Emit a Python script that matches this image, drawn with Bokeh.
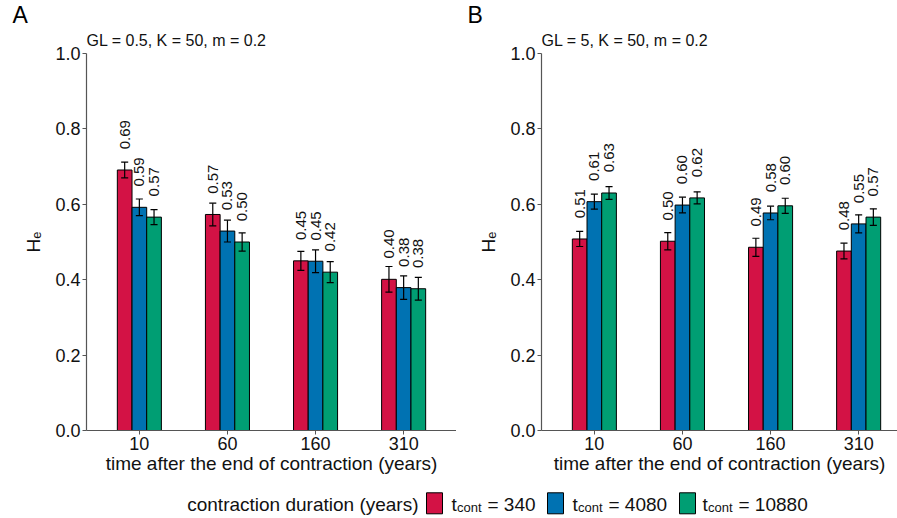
import numpy as np
from bokeh.plotting import figure
from bokeh.models import Range1d, FixedTicker, Title, NumeralTickFormatter
from bokeh.layouts import column, row
from bokeh.embed import file_html
from bokeh.resources import INLINE
from bokeh.core.properties import value

# ---------------- data ----------------
categories = ["10", "60", "160", "310"]
durations = ["340", "4080", "10880"]
colors = ["#D31245", "#0072B2", "#009E73"]

# Panel A : GL = 0.5, K = 50, m = 0.2
a_mean_340 = [0.691, 0.573, 0.450, 0.401]
a_err_340 = [0.021, 0.030, 0.025, 0.034]
a_mean_4080 = [0.592, 0.529, 0.449, 0.379]
a_err_4080 = [0.022, 0.029, 0.030, 0.031]
a_mean_10880 = [0.566, 0.500, 0.420, 0.376]
a_err_10880 = [0.020, 0.024, 0.028, 0.030]

# Panel B : GL = 5, K = 50, m = 0.2
b_mean_340 = [0.508, 0.502, 0.486, 0.476]
b_err_340 = [0.020, 0.023, 0.024, 0.021]
b_mean_4080 = [0.607, 0.598, 0.577, 0.548]
b_err_4080 = [0.020, 0.021, 0.018, 0.024]
b_mean_10880 = [0.630, 0.617, 0.596, 0.566]
b_err_10880 = [0.017, 0.016, 0.020, 0.022]

y_ticks = [0.0, 0.2, 0.4, 0.6, 0.8, 1.0]
x_title = "time after the end of contraction (years)"
y_title = "H\u2091"
legend_title = "contraction duration (years)"

FONT = "Liberation Sans"
AXIS_GREY = "#555555"
TXT = "#111111"
BAR_W = 0.5 / 3
PANEL_H = 478


def make_panel(letter, subtitle, means, errs, width, border_left, x_end):
    p = figure(width=width, height=PANEL_H,
               x_range=Range1d(0.4, x_end), y_range=Range1d(0, 1),
               output_backend="svg", toolbar_location=None,
               min_border_left=border_left, min_border_right=0,
               min_border_top=53, min_border_bottom=48)
    p.outline_line_color = None
    p.grid.visible = False
    p.background_fill_color = "white"

    base = np.arange(1, len(categories) + 1)
    offsets = [-BAR_W, 0.0, BAR_W]
    for m, e, off, col in zip(means, errs, offsets, colors):
        m = np.asarray(m)
        e = np.asarray(e)
        xs = base + off
        p.vbar(x=xs, top=m, bottom=0, width=BAR_W, fill_color=col,
               line_color="black", line_width=1)
        p.segment(x0=xs, y0=m - e, x1=xs, y1=m + e, line_color="black", line_width=1.2)
        p.segment(x0=xs - 0.04, y0=m + e, x1=xs + 0.04, y1=m + e, line_color="black", line_width=1.2)
        p.segment(x0=xs - 0.04, y0=m - e, x1=xs + 0.04, y1=m - e, line_color="black", line_width=1.2)
        p.text(x=xs, y=m + 0.055, text=["%.2f" % v for v in m], angle=np.pi / 2,
               text_align="left", text_baseline="middle",
               text_font=value(FONT), text_font_size="15px", text_color=TXT)

    # axes
    p.xaxis.ticker = FixedTicker(ticks=list(base))
    p.xaxis.major_label_overrides = {int(i): c for i, c in zip(base, categories)}
    p.yaxis.ticker = FixedTicker(ticks=y_ticks)
    p.yaxis.formatter = NumeralTickFormatter(format="0.0")
    p.xaxis.axis_label = x_title
    p.yaxis.axis_label = y_title
    for ax in (p.xaxis, p.yaxis):
        ax.axis_line_color = AXIS_GREY
        ax.axis_line_width = 1.2
        ax.major_tick_line_color = AXIS_GREY
        ax.major_tick_out = 4
        ax.major_tick_in = 0
        ax.minor_tick_line_color = None
        ax.major_label_text_font = FONT
        ax.major_label_text_font_size = "18px"
        ax.major_label_text_color = TXT
        ax.axis_label_text_font = FONT
        ax.axis_label_text_font_size = "19px"
        ax.axis_label_text_font_style = "normal"
        ax.axis_label_text_color = TXT
        ax.major_label_standoff = 2
    p.xaxis.axis_label_standoff = 0
    p.yaxis.axis_label_standoff = 8

    p.add_layout(Title(text=subtitle, align="left", offset=0, standoff=9,
                       text_font=FONT, text_font_size="16px", text_font_style="normal",
                       text_color=TXT), "above")
    p.add_layout(Title(text=letter, align="left", offset=-74, standoff=-4,
                       text_font=FONT, text_font_size="23px", text_font_style="normal",
                       text_color="black"), "above")
    return p


pA = make_panel("A", "GL = 0.5, K = 50, m = 0.2",
                [a_mean_340, a_mean_4080, a_mean_10880],
                [a_err_340, a_err_4080, a_err_10880],
                width=456, border_left=86, x_end=4.6)
pB = make_panel("B", "GL = 5, K = 50, m = 0.2",
                [b_mean_340, b_mean_4080, b_mean_10880],
                [b_err_340, b_err_4080, b_err_10880],
                width=441, border_left=85, x_end=0.4 + 356 / 88.1)

# ---------------- legend strip ----------------
LEG_H = 40
leg = figure(width=897, height=LEG_H, x_range=Range1d(0, 897), y_range=Range1d(0, LEG_H),
             output_backend="svg", toolbar_location=None, min_border=0,
             x_axis_type=None, y_axis_type=None)
leg.outline_line_color = None
leg.grid.visible = False

key_x = [434, 555, 687]
t_x = [451, 572, 702]
leg.text(x=[418], y=[14], text=[legend_title], text_align="right", text_baseline="alphabetic",
         text_font=value(FONT), text_font_size="19px", text_color=TXT)
leg.rect(x=key_x, y=[15.2] * 3, width=16, height=21, fill_color=colors, line_color="black",
         line_width=1)
leg.text(x=t_x, y=[14] * 3, text=["t"] * 3, text_align="left", text_baseline="alphabetic",
         text_font=value(FONT), text_font_size="19px", text_color=TXT)
leg.text(x=[v + 5.5 for v in t_x], y=[11.5] * 3, text=["cont"] * 3, text_align="left",
         text_baseline="alphabetic", text_font=value(FONT), text_font_size="13px",
         text_color=TXT)
leg.text(x=[v + 36 for v in t_x], y=[14] * 3, text=["= " + d for d in durations],
         text_align="left", text_baseline="alphabetic",
         text_font=value(FONT), text_font_size="19px", text_color=TXT)

layout = column(row(pA, pB), leg)

open("out.html", "w").write(file_html(layout, INLINE))
